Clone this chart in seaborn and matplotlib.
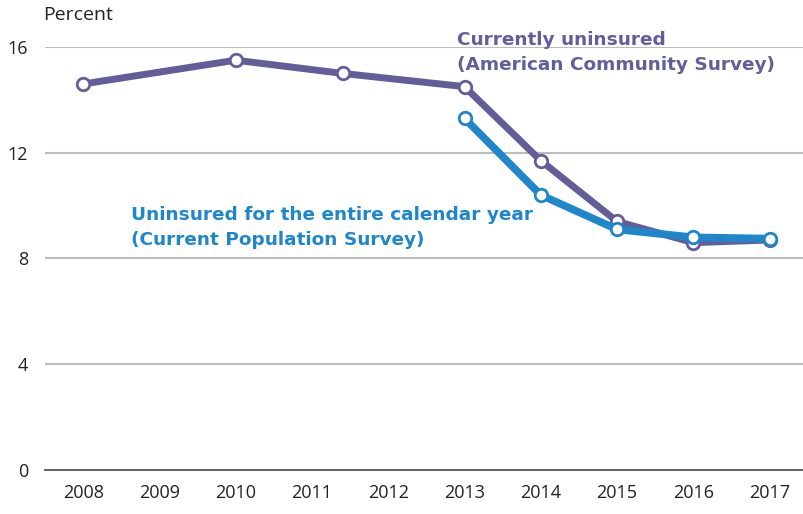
import numpy as np
import pandas as pd
import matplotlib
matplotlib.use("Agg")
import matplotlib.pyplot as plt
import seaborn as sns

# ACS: currently uninsured (points as marked on the chart)
acs_years = [2008, 2010, 2011.4, 2013, 2014, 2015, 2016, 2017]
acs_values = [14.6, 15.5, 15.0, 14.5, 11.7, 9.4, 8.6, 8.7]

# CPS: uninsured for the entire calendar year
cps_years = [2013, 2014, 2015, 2016, 2017]
cps_values = [13.3, 10.4, 9.1, 8.8, 8.75]

tick_years = list(range(2008, 2018))
y_ticks = [0, 4, 8, 12, 16]

purple = "#635e9a"
blue = "#1f87c9"

sns.set_style("white")
plt.rcParams['font.family'] = ['Open Sans', 'DejaVu Sans']

fig = plt.figure(figsize=(8.04, 5.14), dpi=100)
ax = fig.add_axes([0.056, 0.0856, 0.944, 0.823])

acs = pd.DataFrame({"year": acs_years, "pct": acs_values})
cps = pd.DataFrame({"year": cps_years, "pct": cps_values})

sns.lineplot(data=acs, x="year", y="pct", ax=ax, color=purple, lw=5,
             marker="o", markersize=9, markerfacecolor="white",
             markeredgecolor=purple, markeredgewidth=2, clip_on=False, zorder=3)
sns.lineplot(data=cps, x="year", y="pct", ax=ax, color=blue, lw=5.5,
             marker="o", markersize=9, markerfacecolor="white",
             markeredgecolor=blue, markeredgewidth=2, clip_on=False, zorder=4)

ax.set_xlim(2007.5, 2017.45)
ax.set_ylim(0, 16)
ax.set_yticks(y_ticks)
ax.set_xticks(tick_years)
ax.set_xticklabels([str(y) for y in tick_years], fontsize=13, color="#222222")
ax.set_yticklabels([str(y) for y in y_ticks], fontsize=13, color="#222222")
ax.set_xlabel("")
ax.set_ylabel("")

for v in y_ticks[1:]:
    ax.axhline(v, color="#bdbdbd", lw=1.5, zorder=1)

for s in ["top", "right", "left"]:
    ax.spines[s].set_visible(False)
ax.spines["bottom"].set_color("#555555")
ax.spines["bottom"].set_linewidth(1.3)

ax.tick_params(axis="x", direction="in", length=8, width=1, color="#555555", pad=10)
ax.tick_params(axis="y", length=0, pad=12)

ax.text(2012.9, 16.6, "Currently uninsured\n(American Community Survey)",
        color=purple, fontsize=13.3, fontweight="bold", va="top", ha="left",
        linespacing=1.48, family="DejaVu Sans")
ax.text(2008.63, 9.97, "Uninsured for the entire calendar year\n(Current Population Survey)",
        color=blue, fontsize=13.3, fontweight="bold", va="top", ha="left",
        linespacing=1.48, family="DejaVu Sans")

fig.text(0.097, 0.97, "Percent", fontsize=14, color="#222222", ha="center", va="center")

fig.savefig("out.png", dpi=100)
